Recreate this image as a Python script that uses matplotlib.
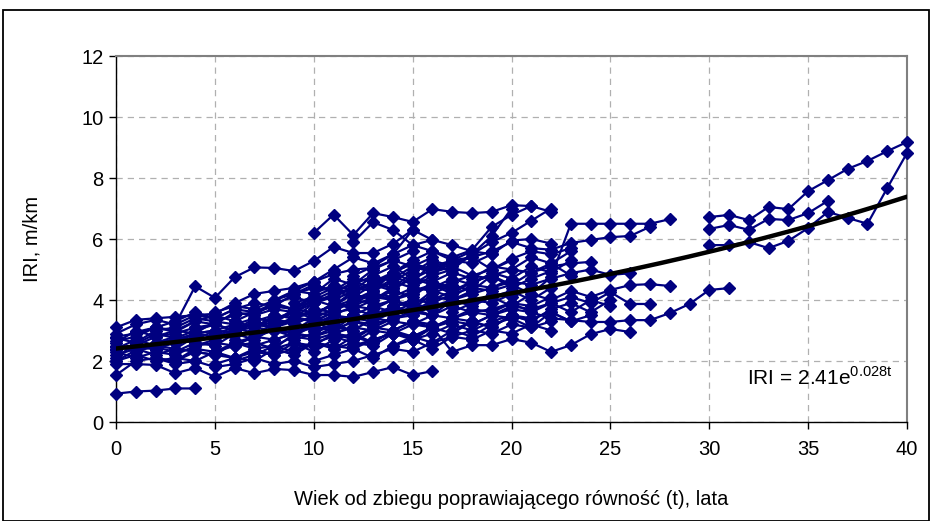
import numpy as np
import matplotlib
matplotlib.use('Agg')
import matplotlib.pyplot as plt
from matplotlib.patches import Rectangle

plt.rcParams['font.family'] = ['Liberation Sans', 'DejaVu Sans']
plt.rcParams['mathtext.fontset'] = 'custom'
plt.rcParams['mathtext.rm'] = 'Liberation Sans'

# trend fitted in the source chart: IRI = 2.41 e^(0.028 t)
trend_a = 2.41
trend_b = 0.028

# sections starting at age 0
early_starts = [0] * 16
early_iri = [
    [0.93, 1.0, 1.03, 1.1, 1.1],
    [3.1, 3.35, 3.4, 3.45, 3.5, 3.55, 3.9, 4.2, 4.3, 4.4, 4.6, 4.85, 5.0, 5.05, 5.3, 5.6],
    [2.9, 3.2, 3.35, 3.2, 4.45, 4.07, 4.75, 5.07, 5.05, 4.95, 5.28, 5.74, 5.54, 5.54, 5.84, 6.3],
    [2.75, 2.6, 3.0, 3.1, 3.4, 3.3, 3.5, 3.6, 3.8, 3.7, 4.1, 4.0, 4.3, 4.5, 4.4, 4.7, 4.6, 4.9],
    [2.6, 3.0, 2.8, 2.9, 3.1, 3.2, 3.0, 3.4, 3.3, 3.6, 3.5, 3.9, 3.8, 4.1, 4.0, 4.2],
    [2.5, 2.3, 2.6, 2.7, 2.6, 2.9, 3.1, 2.9, 3.2, 3.4, 3.3, 3.6, 3.7, 3.5, 3.8, 3.9, 4.1, 4.0, 4.3],
    [2.4, 2.7, 2.5, 2.4, 2.8, 2.7, 3.0, 3.2, 3.1, 3.0, 3.4, 3.3, 3.5, 3.8, 3.6],
    [2.3, 2.1, 2.3, 2.2, 2.5, 2.6, 2.5, 2.8, 2.7, 2.9, 3.1, 3.0, 3.3, 3.2, 3.4, 3.5],
    [2.2, 2.4, 2.2, 2.4, 2.3, 2.2, 2.6, 2.4, 2.5, 2.8, 2.7, 2.9, 2.8, 3.1, 3.0, 3.3, 3.2],
    [2.0, 2.2, 2.0, 2.1, 2.0, 2.3, 2.1, 2.3, 2.2, 2.4, 2.6, 2.5, 2.4, 2.7, 2.9, 2.8],
    [1.9, 1.9, 1.87, 1.6, 1.77, 1.48, 1.77, 1.6, 1.74, 1.7, 1.54, 1.54, 1.48, 1.64, 1.8, 1.54, 1.67],
    [1.54, 2.0, 2.1, 1.9, 2.0, 1.8, 1.9, 2.1, 1.9, 2.0, 1.8, 1.9, 2.0, 2.2],
    [2.8, 2.9, 3.1, 3.3, 3.6, 3.4, 3.7, 3.6, 3.9, 4.1, 3.9, 4.2, 4.4, 4.3, 4.6],
    [2.45, 2.5, 2.8, 3.0, 2.9, 3.3, 3.2, 3.4, 3.3, 3.7, 3.6, 3.8, 4.0, 3.9],
    [2.1, 2.6, 2.4, 2.6, 2.9, 3.0, 2.7, 3.1, 3.0, 2.8, 3.2, 3.5, 3.4, 3.3, 3.6, 3.9, 3.7],
    [2.65, 2.8, 3.1, 3.0, 3.3, 3.5, 3.3, 3.6, 3.8, 3.7, 4.0, 4.3, 4.1, 4.5, 4.3, 4.8],
]

# sections starting at ages 1-11
mid_starts = [3, 5, 4, 6, 5, 7, 8, 9, 10, 6, 11, 2, 3, 1]
mid_iri = [
    [3.2, 3.5, 3.4, 3.7, 3.9, 3.8, 4.2, 4.4, 4.3, 4.5, 4.8, 4.6, 5.0, 5.1, 5.3, 5.2, 5.5],
    [2.3, 2.5, 2.6, 2.4, 2.9, 2.8, 3.0, 3.3, 3.1, 3.4, 3.6, 3.5, 3.8, 4.0, 3.9, 4.2, 4.4],
    [2.9, 3.0, 3.2, 3.1, 3.3, 3.6, 3.4, 3.7, 3.9, 4.2, 4.0, 4.3, 4.5, 4.4],
    [2.0, 2.2, 2.5, 2.3, 2.6, 2.8, 2.6, 3.0, 2.9, 3.2, 3.1, 3.4, 3.3],
    [3.6, 3.8, 3.7, 4.0, 4.2, 4.5, 4.3, 4.7, 4.6, 4.9, 5.2, 5.0, 5.3, 5.6],
    [2.8, 3.0, 2.9, 3.2, 3.5, 3.3, 3.6, 3.5, 3.8, 3.7, 4.0, 3.9, 4.2, 4.1],
    [2.4, 2.6, 2.3, 2.7, 2.9, 2.6, 3.0, 2.8, 3.1, 3.3, 3.2, 3.5, 3.4],
    [3.9, 4.1, 4.4, 4.2, 4.6, 4.8, 4.5, 4.9, 5.1, 4.8, 5.0, 5.3],
    [2.0, 2.2, 2.4, 2.1, 2.5, 2.7, 2.4, 2.8, 3.0, 2.9, 3.2, 3.1, 3.3],
    [3.3, 3.1, 3.5, 3.4, 3.7, 3.6, 4.0, 4.2, 4.1, 4.4, 4.3, 4.6, 4.8, 4.7],
    [2.9, 3.1, 3.0, 3.3, 3.2, 3.5, 3.4, 3.7, 3.6, 3.9, 3.8, 4.1],
    [2.6, 2.8, 2.7, 3.0, 2.9, 3.3, 3.1, 3.4, 3.6, 3.5, 3.8, 3.7],
    [2.0, 2.4, 2.3, 2.6, 2.5, 2.7, 2.9, 2.8, 3.1, 3.0],
    [2.55, 2.35, 2.7, 2.9, 2.8, 3.05, 3.2, 3.1, 3.45, 3.3, 3.6],
]

# more sections filling the main band
extra_starts = [0, 0, 1, 2, 4, 5, 7, 8, 9, 10, 11, 12, 14, 16, 17, 13, 6]
extra_iri = [
    [2.35, 2.55, 2.9, 2.75, 3.0, 3.2, 3.0, 3.3, 3.5, 3.4, 3.9, 4.2, 4.6, 4.4, 4.9, 5.2, 4.9, 5.3],
    [2.0, 2.35, 2.45, 2.3, 2.6, 2.5, 2.9, 2.7, 3.1, 3.3, 3.0, 3.5, 3.3, 3.7, 4.0, 3.8, 4.3, 4.1, 4.5, 4.4, 4.7],
    [2.95, 3.1, 2.95, 3.3, 3.2, 3.6, 3.5, 3.9, 3.7, 4.2, 4.5, 4.3, 4.8, 5.1, 4.7, 5.0],
    [2.1, 2.0, 2.3, 2.2, 2.1, 2.4, 2.2, 2.6, 2.5, 2.9, 2.7, 3.1],
    [2.5, 2.7, 3.0, 3.1, 3.4, 3.2, 3.5, 3.9, 3.7, 4.0, 4.3, 4.1, 4.6, 4.4],
    [1.9, 2.1, 2.0, 2.4, 2.2, 2.6, 2.4, 2.8, 2.6, 3.0, 2.7, 3.1],
    [3.5, 3.7, 3.6, 4.0, 3.8, 4.3, 4.6, 4.4, 4.9, 5.3, 5.1, 5.5, 5.9, 6.2, 6.6, 7.0],
    [4.0, 4.3, 4.2, 4.7, 4.5, 5.0, 5.3, 5.1, 5.4],
    [2.7, 2.9, 3.2, 3.0, 3.4, 3.3, 3.7, 3.5, 4.0, 3.8, 4.1, 4.3, 4.0, 4.4],
    [3.6, 3.8, 4.2, 4.0, 4.4, 4.7, 4.5, 4.2, 4.6, 4.8, 4.5, 4.9, 5.2, 4.8],
    [2.4, 2.6, 2.5, 2.9, 2.7, 3.1, 2.9, 3.3, 3.1, 3.5, 3.3],
    [4.0, 4.3, 4.9, 4.6, 5.2, 4.9, 4.7, 5.1, 5.0, 5.4, 5.2, 5.6],
    [2.5, 2.8, 2.6, 3.0, 2.8, 3.2, 3.4, 3.1, 3.6, 3.3],
    [4.4, 4.7, 4.5, 4.9, 4.7, 5.1, 4.9, 5.3],
    [3.0, 3.3, 3.1, 3.5, 3.3, 3.7, 3.9, 3.6, 4.0],
    [3.8, 4.0, 3.7, 4.2, 4.5, 4.3, 4.8, 4.4, 4.7, 4.95],
    [2.6, 2.8, 3.1, 2.9, 3.3, 3.0, 3.5, 3.4, 3.8, 3.6, 4.0, 4.3],
]

# sections starting at ages 8-18 (reaching into the 20s)
late_starts = [10, 12, 9, 8, 10, 12, 11, 15, 15, 17, 18, 12, 13, 14, 13, 14, 15]
late_iri = [
    [6.2, 6.8, 6.13, 6.85, 6.72, 6.56, 6.98, 6.89, 6.85, 6.89, 7.11, 7.08, 6.89],
    [5.9, 6.55, 6.3, 5.8, 5.97],
    [4.3, 4.6, 5.0, 5.4, 5.2, 5.5, 5.8, 5.6, 5.4, 5.64, 6.4, 6.79, 7.08],
    [3.4, 3.6, 3.9, 4.1, 4.4, 4.3, 4.7, 5.1, 4.9, 5.2, 5.4, 5.6, 5.9, 5.7, 5.65, 5.87, 5.97, 6.06, 6.1, 6.4],
    [3.0, 3.2, 3.5, 3.4, 3.8, 4.0, 3.9, 4.2, 4.4, 4.3, 4.5, 4.2, 4.75, 6.5, 6.5, 6.5, 6.5, 6.5, 6.65],
    [2.5, 2.7, 2.9, 2.8, 3.1, 2.3, 2.52, 2.52, 2.72, 2.6, 2.3, 2.52, 2.88, 3.05, 2.95],
    [3.3, 3.5, 3.4, 3.7, 3.6, 3.9, 3.8, 3.6, 3.7, 3.9, 3.6, 3.4, 3.34, 3.28, 3.28, 3.34, 3.34, 3.57, 3.87, 4.33, 4.39],
    [3.5, 3.8, 4.0, 4.2, 4.4, 4.6, 4.5, 4.7, 4.88, 5.0, 4.82, 4.88],
    [4.2, 4.5, 4.3, 4.6, 4.8, 5.0, 4.9, 5.1, 5.2, 5.25],
    [3.6, 3.9, 4.1, 3.8, 4.2, 4.0, 4.3, 4.1, 4.33, 4.49, 4.52, 4.46],
    [3.2, 3.5, 3.7, 3.6, 3.9, 4.1, 3.9, 4.26, 3.87, 3.87],
    [4.8, 5.1, 5.5, 6.3, 5.97, 5.8, 5.6, 5.5, 5.95, 6.0, 5.85],
    [4.5, 4.9, 5.3, 5.6, 5.3, 5.4, 5.0, 5.35, 5.6, 5.5, 5.7],
    [4.6, 4.4, 4.8, 5.0, 5.5, 6.1, 7.0],
    [2.2, 2.4, 2.3, 2.6, 2.8, 2.7, 3.0, 2.9, 3.2, 3.0],
    [3.0, 3.3, 3.1, 3.4, 3.6, 3.5, 3.8, 3.7, 3.9, 3.6, 4.0, 3.8],
    [2.7, 2.9, 3.2, 3.0, 3.3, 3.5, 3.4, 3.6, 3.3, 3.5],
]

# sections observed from age 30
old_starts = [30, 30, 30]
old_iri = [
    [6.72, 6.79, 6.62, 7.05, 6.98, 7.57, 7.93, 8.3, 8.56, 8.88, 9.18],
    [6.33, 6.46, 6.3, 6.66, 6.62, 6.85, 7.25],
    [5.8, 5.8, 5.9, 5.7, 5.94, 6.36, 6.89, 6.69, 6.5, 7.67, 8.82],
]

navy = '#000080'

fig = plt.figure(figsize=(9.32, 5.21), dpi=100)
ax = fig.add_axes([0.1245, 0.19, 0.8487, 0.7025])

groups = [(early_starts, early_iri), (mid_starts, mid_iri), (extra_starts, extra_iri),
          (late_starts, late_iri), (old_starts, old_iri)]
for starts, series in groups:
    for s, vals in zip(starts, series):
        ages = np.arange(s, s + len(vals))
        ax.plot(ages, vals, color=navy, lw=1.6, marker='D', ms=6,
                mec=navy, mfc=navy, zorder=3, clip_on=False)

t = np.linspace(0, 40, 200)
ax.plot(t, trend_a * np.exp(trend_b * t), color='black', lw=3.2, zorder=4)

ax.set_xlim(0, 40)
ax.set_ylim(0, 12)
ax.set_xticks(range(0, 41, 5))
ax.set_yticks(range(0, 13, 2))
ax.grid(True, color='#b0b0b0', linestyle=(0, (5, 4)), lw=0.9)
ax.set_axisbelow(True)
ax.tick_params(labelsize=14.5, direction='out', length=5, width=1, color='black')
ax.tick_params(axis='x', pad=8)
ax.tick_params(axis='y', pad=4)
for side in ['left', 'bottom']:
    ax.spines[side].set_color('black')
    ax.spines[side].set_linewidth(1.0)
for side in ['top', 'right']:
    ax.spines[side].set_color('#808080')
    ax.spines[side].set_linewidth(1.5)

ax.set_xlabel('Wiek od zbiegu poprawiającego równość (t), lata', fontsize=14.5, labelpad=22)
ax.set_ylabel('IRI, m/km', fontsize=14.5, labelpad=29)

ax.text(0.982, 0.09, r'IRI = 2.41e$^{\rm 0.028t}$', transform=ax.transAxes,
        ha='right', va='bottom', fontsize=15, zorder=5)

fig.patches.append(Rectangle((3 / 932, 0), 926 / 932, 1 - 10 / 521,
                             transform=fig.transFigure, fill=False,
                             edgecolor='black', lw=1.3))

fig.savefig('out.png', dpi=100)
